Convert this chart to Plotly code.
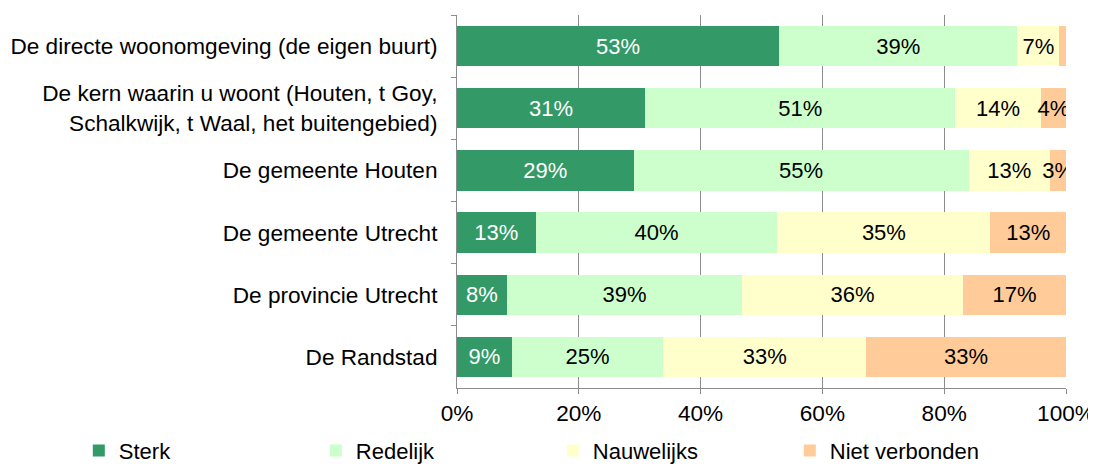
import plotly.graph_objects as go

categories = [
    "De directe woonomgeving (de eigen buurt)",
    "De kern waarin u woont (Houten, t Goy,<br>Schalkwijk, t Waal, het buitengebied)",
    "De gemeente Houten",
    "De gemeente Utrecht",
    "De provincie Utrecht",
    "De Randstad",
]

series_names = ["Sterk", "Redelijk", "Nauwelijks", "Niet verbonden"]
sterk = [52.9, 30.9, 29.0, 12.9, 8.2, 9.0]
redelijk = [39.1, 50.9, 55.0, 39.7, 38.6, 24.9]
nauwelijks = [6.9, 14.1, 13.4, 35.0, 36.3, 33.3]
niet_verbonden = [1.1, 4.1, 2.6, 12.4, 16.9, 32.8]

sterk_labels = ["53%", "31%", "29%", "13%", "8%", "9%"]
redelijk_labels = ["39%", "51%", "55%", "40%", "39%", "25%"]
nauwelijks_labels = ["7%", "14%", "13%", "35%", "36%", "33%"]
niet_labels = ["", "4%", "3%", "13%", "17%", "33%"]

colors = ["#339966", "#CCFFCC", "#FFFFCC", "#FFCC99"]
text_colors = ["white", "black", "black", "black"]

x_ticks = [0, 20, 40, 60, 80, 100]

FONT = "Liberation Sans, Arial, sans-serif"
fig = go.Figure()
for name, vals, labels, col, tcol in zip(
    series_names,
    [sterk, redelijk, nauwelijks, niet_verbonden],
    [sterk_labels, redelijk_labels, nauwelijks_labels, niet_labels],
    colors,
    text_colors,
):
    fig.add_trace(go.Bar(
        name=name,
        y=categories,
        x=vals,
        orientation="h",
        marker=dict(color=col, line=dict(width=0)),
        text=labels,
        textposition="inside",
        insidetextanchor="middle",
        textangle=0,
        textfont=dict(color=tcol, size=22, family=FONT),
        hoverinfo="skip",
    ))

fig.update_layout(
    barmode="stack",
    bargap=0.35,
    width=1096,
    height=464,
    margin=dict(l=449, r=38, t=7, b=84, autoexpand=False),
    plot_bgcolor="white",
    paper_bgcolor="white",
    font=dict(family=FONT, size=22.6, color="black"),
    uniformtext=dict(minsize=22, mode="show"),
    showlegend=True,
    legend=dict(
        orientation="h",
        x=-0.621,
        xanchor="left",
        y=-0.168,
        yanchor="middle",
        font=dict(size=22, family=FONT),
        itemwidth=30,
        entrywidth=192,
        entrywidthmode="pixels",
        traceorder="normal",
        bgcolor="rgba(0,0,0,0)",
    ),
    xaxis=dict(
        range=[0, 100],
        tickvals=x_ticks,
        ticktext=[f"{v}%" for v in x_ticks],
        showgrid=True,
        gridcolor="#8c8c8c",
        gridwidth=1,
        zeroline=False,
        showline=True,
        linecolor="#8c8c8c",
        linewidth=1,
        ticks="outside",
        ticklen=5,
        tickcolor="#8c8c8c",
        tickfont=dict(size=22.6, family=FONT),
        automargin=False,
        fixedrange=True,
    ),
    yaxis=dict(
        autorange="reversed",
        showgrid=False,
        showline=True,
        linecolor="#8c8c8c",
        linewidth=1,
        ticks="outside",
        tickson="boundaries",
        ticklen=5,
        tickcolor="#8c8c8c",
        tickfont=dict(size=22.6, family=FONT),
        ticklabelstandoff=14,
        automargin=False,
        fixedrange=True,
    ),
)

fig.write_html("out.html")
